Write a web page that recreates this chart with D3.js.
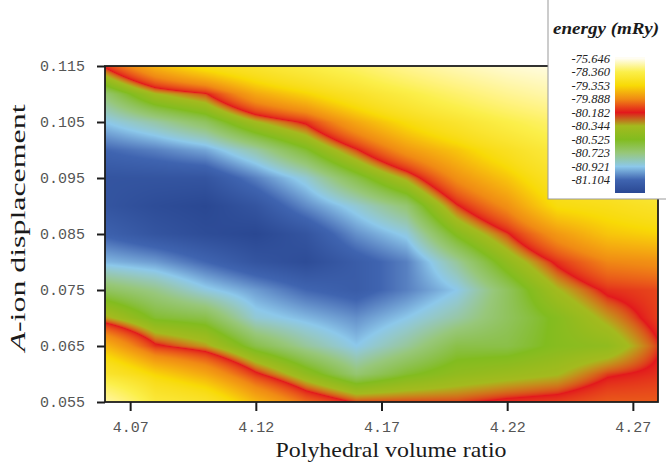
<!DOCTYPE html>
<html>
<head>
<meta charset="utf-8">
<script src="https://cdn.jsdelivr.net/npm/d3@7"></script>
<style>
  html, body { margin: 0; padding: 0; background: #fff; }
  svg { display: block; }
  .serif { font-family: "Liberation Serif", "Times New Roman", Times, serif; }
  .mono { font-family: "Liberation Mono", "Courier New", Courier, monospace; }
</style>
</head>
<body>
<div id="chart"></div>
<script>
const W = 666;
const H = 462;

// grid nodes of the energy surface
const volumeRatio = [4.06, 4.08, 4.10, 4.12, 4.14, 4.16, 4.18, 4.20, 4.22, 4.24, 4.26, 4.28];
const displacement = [0.115, 0.110, 0.105, 0.100, 0.095, 0.090, 0.085, 0.080, 0.075, 0.070, 0.065, 0.060, 0.055];

// energy (mRy): one row per displacement, one column per volume ratio
const energy = [
  [-80.15, -79.60, -79.20, -78.90, -78.50, -78.00, -77.30, -76.70, -76.20, -75.90, -75.70, -75.65],
  [-80.70, -80.35, -80.20, -79.70, -79.40, -79.00, -78.50, -77.90, -77.30, -76.80, -76.40, -76.10],
  [-80.92, -80.80, -80.65, -80.35, -80.15, -79.70, -79.30, -78.90, -78.40, -77.90, -77.40, -76.90],
  [-81.10, -81.05, -80.98, -80.80, -80.55, -80.20, -79.80, -79.50, -79.10, -78.60, -78.20, -77.70],
  [-81.20, -81.20, -81.20, -81.05, -80.88, -80.60, -80.30, -79.85, -79.50, -79.00, -78.80, -78.40],
  [-81.20, -81.25, -81.28, -81.20, -81.03, -80.88, -80.70, -80.20, -79.85, -79.30, -79.20, -79.00],
  [-81.12, -81.20, -81.25, -81.28, -81.20, -81.02, -80.90, -80.50, -80.20, -79.80, -79.50, -79.40],
  [-80.95, -81.00, -81.10, -81.20, -81.25, -81.15, -81.05, -80.78, -80.45, -80.15, -79.90, -79.85],
  [-80.65, -80.75, -80.90, -81.00, -81.10, -81.15, -81.05, -80.92, -80.65, -80.35, -80.15, -80.10],
  [-80.30, -80.55, -80.60, -80.88, -80.95, -81.02, -80.92, -80.80, -80.65, -80.50, -80.30, -80.12],
  [-79.60, -80.15, -80.30, -80.60, -80.78, -80.92, -80.78, -80.60, -80.60, -80.50, -80.45, -80.20],
  [-78.90, -79.40, -79.70, -80.15, -80.45, -80.70, -80.55, -80.45, -80.40, -80.35, -80.20, -80.15],
  [-77.00, -78.70, -79.00, -79.60, -80.00, -80.20, -80.20, -80.20, -80.15, -80.12, -80.05, -80.05],
];

const xTicks = [4.07, 4.12, 4.17, 4.22, 4.27];
const yTicks = [0.115, 0.105, 0.095, 0.085, 0.075, 0.065, 0.055];

const legendValues = [-75.646, -78.360, -79.353, -79.888, -80.182, -80.344, -80.525, -80.723, -80.921, -81.104];
const legendColors = ["#fffdf2", "#fbef4a", "#f8da06", "#f08a14", "#e2181c", "#a4ba1e", "#82bc1f", "#97c77a", "#8cc8ea", "#3f64b0"];
const deepBlue = "#2a4893";

const x = d3.scaleLinear().domain([4.06, 4.28]).range([105, 658]);
const y = d3.scaleLinear().domain([0.055, 0.115]).range([402, 66]);

const color = d3.scaleLinear()
  .domain([...legendValues, d3.min(energy.flat())])
  .range([...legendColors, deepBlue])
  .interpolate(d3.interpolateLab)
  .clamp(true);

// plain hyphen minus, as in the original labels
const fmt = (spec) => (d) => d3.format(spec)(d).replace("\u2212", "-");

const svg = d3.select("#chart").append("svg")
  .attr("width", W)
  .attr("height", H)
  .attr("viewBox", `0 0 ${W} ${H}`);

svg.append("rect").attr("width", W).attr("height", H).attr("fill", "#fff");

// ── surface: bilinear interpolation between grid nodes ─────────────────────
const [px0, px1] = x.range();
const [py1, py0] = y.range();
const pw = Math.round(px1 - px0);
const ph = Math.round(py1 - py0);

const colIdx = d3.scaleLinear()
  .domain(d3.extent(volumeRatio))
  .range([0, volumeRatio.length - 1])
  .clamp(true);
const rowIdx = d3.scaleLinear()
  .domain([displacement[0], displacement[displacement.length - 1]])
  .range([0, displacement.length - 1])
  .clamp(true);

const canvas = document.createElement("canvas");
canvas.width = pw;
canvas.height = ph;
const ctx = canvas.getContext("2d");
const img = ctx.createImageData(pw, ph);
const nc = volumeRatio.length - 1;
const nr = displacement.length - 1;

for (let j = 0; j < ph; j++) {
  const gy = rowIdx(y.invert(py0 + j + 0.5));
  const r0 = Math.min(Math.floor(gy), nr - 1);
  const fy = gy - r0;
  for (let i = 0; i < pw; i++) {
    const gx = colIdx(x.invert(px0 + i + 0.5));
    const c0 = Math.min(Math.floor(gx), nc - 1);
    const fx = gx - c0;
    const top = energy[r0][c0] * (1 - fx) + energy[r0][c0 + 1] * fx;
    const bot = energy[r0 + 1][c0] * (1 - fx) + energy[r0 + 1][c0 + 1] * fx;
    const e = top * (1 - fy) + bot * fy;
    const c = d3.rgb(color(e));
    const k = (j * pw + i) * 4;
    img.data[k] = c.r;
    img.data[k + 1] = c.g;
    img.data[k + 2] = c.b;
    img.data[k + 3] = 255;
  }
}
ctx.putImageData(img, 0, 0);

svg.append("image")
  .attr("x", px0)
  .attr("y", py0)
  .attr("width", pw)
  .attr("height", ph)
  .attr("preserveAspectRatio", "none")
  .attr("href", canvas.toDataURL());

// frame
svg.append("rect")
  .attr("x", px0)
  .attr("y", py0)
  .attr("width", pw)
  .attr("height", ph)
  .attr("fill", "none")
  .attr("stroke", "#1c1c1c")
  .attr("stroke-width", 1.8);

// ── axes ───────────────────────────────────────────────────────────────────
function styleAxis(g) {
  g.select(".domain").remove();
  g.attr("font-family", null).attr("font-size", null);
  g.selectAll(".tick line").attr("stroke", "#1c1c1c").attr("stroke-width", 2);
  g.selectAll(".tick text")
    .attr("class", "mono")
    .attr("fill", "#555")
    .style("font-size", "15px");
}

svg.append("g")
  .attr("transform", `translate(0,${py1})`)
  .call(d3.axisBottom(x).tickValues(xTicks).tickFormat(fmt(".2f")).tickSize(9).tickPadding(10))
  .call(styleAxis);

svg.append("g")
  .attr("transform", `translate(${px0},0)`)
  .call(d3.axisLeft(y).tickValues(yTicks).tickFormat(fmt(".3f")).tickSize(8).tickPadding(12))
  .call(styleAxis);

// axis titles
svg.append("text")
  .attr("class", "serif")
  .attr("x", 391)
  .attr("y", 457)
  .attr("text-anchor", "middle")
  .attr("textLength", 231)
  .attr("lengthAdjust", "spacingAndGlyphs")
  .style("font-size", "21px")
  .attr("fill", "#1a1a1a")
  .text("Polyhedral volume ratio");

const yTitle = svg.append("text")
  .attr("class", "serif")
  .attr("transform", "translate(25,228) rotate(-90)")
  .attr("text-anchor", "middle")
  .attr("textLength", 247)
  .attr("lengthAdjust", "spacingAndGlyphs")
  .style("font-size", "21px")
  .attr("fill", "#1a1a1a");
yTitle.append("tspan").style("font-style", "italic").text("A");
yTitle.append("tspan").text("-ion displacement");

// ── legend ─────────────────────────────────────────────────────────────────
const labelY = d3.scaleLinear().domain([0, legendValues.length - 1]).range([58.5, 180]);
const barTop = 57;
const barH = 136;

const grad = svg.append("defs").append("linearGradient")
  .attr("id", "energy-grad")
  .attr("x1", 0).attr("y1", 0).attr("x2", 0).attr("y2", 1);
grad.append("stop").attr("offset", 0).attr("stop-color", legendColors[0]);
legendColors.forEach((c, i) => {
  grad.append("stop")
    .attr("offset", (labelY(i) - barTop) / barH)
    .attr("stop-color", c);
});
grad.append("stop").attr("offset", 1).attr("stop-color", deepBlue);

const legend = svg.append("g");
legend.append("rect")
  .attr("x", 548)
  .attr("y", -2)
  .attr("width", 130)
  .attr("height", 201)
  .attr("fill", "#fff")
  .attr("stroke", "#9a9a9a")
  .attr("stroke-width", 1);

legend.append("text")
  .attr("class", "serif")
  .attr("x", 606)
  .attr("y", 34)
  .attr("text-anchor", "middle")
  .attr("textLength", 106)
  .attr("lengthAdjust", "spacingAndGlyphs")
  .style("font-size", "16px")
  .style("font-style", "italic")
  .style("font-weight", "bold")
  .attr("fill", "#1a1a1a")
  .text("energy (mRy)");

legend.append("rect")
  .attr("x", 615)
  .attr("y", barTop)
  .attr("width", 30)
  .attr("height", barH)
  .attr("fill", "url(#energy-grad)");

legend.selectAll(".lab")
  .data(legendValues)
  .join("text")
  .attr("class", "lab serif")
  .attr("x", 610)
  .attr("y", (d, i) => labelY(i) + 4)
  .attr("text-anchor", "end")
  .style("font-size", "12.5px")
  .style("font-style", "italic")
  .attr("fill", "#222")
  .text(fmt(".3f"));
</script>
</body>
</html>
